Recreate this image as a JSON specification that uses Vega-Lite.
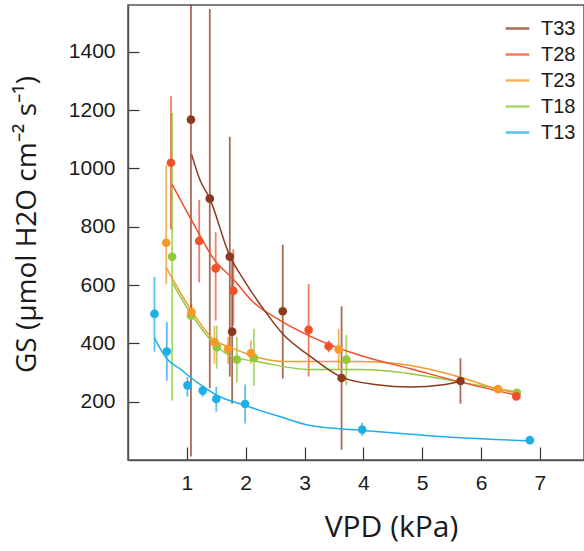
{
  "$schema": "https://vega.github.io/schema/vega-lite/v6.json",
  "autosize": {"type": "none"},
  "padding": {"left": 128, "top": 5, "right": 0, "bottom": 91},
  "width": 456,
  "height": 455,
  "background": "white",
  "config": {
    "view": {"stroke": "#555555", "strokeWidth": 1.5},
    "axis": {
      "grid": false,
      "domainColor": "#555555",
      "domainWidth": 1.5,
      "tickColor": "#333333",
      "tickWidth": 1.2,
      "labelFont": "Liberation Sans",
      "labelFontSize": 20,
      "labelColor": "#1a1a1a",
      "titleFont": "Open Sans",
      "titleFontWeight": "normal",
      "titleColor": "#1a1a1a"
    },
    "legend": {
      "orient": "none",
      "legendX": 376,
      "legendY": 10,
      "padding": 0,
      "symbolType": "stroke",
      "symbolStrokeWidth": 2.5,
      "symbolSize": 560,
      "labelFont": "Liberation Sans",
      "labelFontSize": 20,
      "labelOffset": 10,
      "labelColor": "#1a1a1a",
      "rowPadding": 2,
      "title": null
    }
  },
  "datasets": {
    "pts": [
      {"series": "T13", "vpd": 0.45, "gs": 501, "lo": 371, "hi": 628},
      {"series": "T13", "vpd": 0.66, "gs": 372, "lo": 272, "hi": 473},
      {"series": "T13", "vpd": 1.01, "gs": 256, "lo": 217, "hi": 285},
      {"series": "T13", "vpd": 1.27, "gs": 238, "lo": 217, "hi": 256},
      {"series": "T13", "vpd": 1.50, "gs": 209, "lo": 166, "hi": 251},
      {"series": "T13", "vpd": 1.99, "gs": 192, "lo": 125, "hi": 259},
      {"series": "T13", "vpd": 3.98, "gs": 104, "lo": 83, "hi": 128},
      {"series": "T13", "vpd": 6.83, "gs": 68, "lo": 62, "hi": 74},
      {"series": "T18", "vpd": 0.75, "gs": 697, "lo": 204, "hi": 1190},
      {"series": "T18", "vpd": 1.07, "gs": 495, "lo": 480, "hi": 510},
      {"series": "T18", "vpd": 1.51, "gs": 387, "lo": 313, "hi": 461},
      {"series": "T18", "vpd": 1.85, "gs": 344, "lo": 265, "hi": 422},
      {"series": "T18", "vpd": 2.14, "gs": 350, "lo": 255, "hi": 450},
      {"series": "T18", "vpd": 3.71, "gs": 344, "lo": 256, "hi": 429},
      {"series": "T18", "vpd": 6.61, "gs": 230, "lo": 222, "hi": 238},
      {"series": "T23", "vpd": 0.65, "gs": 745, "lo": 603, "hi": 1011},
      {"series": "T23", "vpd": 1.08, "gs": 507, "lo": 480, "hi": 535},
      {"series": "T23", "vpd": 1.47, "gs": 404, "lo": 330, "hi": 461},
      {"series": "T23", "vpd": 1.70, "gs": 381, "lo": 330, "hi": 422},
      {"series": "T23", "vpd": 2.09, "gs": 366, "lo": 330, "hi": 410},
      {"series": "T23", "vpd": 3.58, "gs": 379, "lo": 307, "hi": 450},
      {"series": "T23", "vpd": 6.29, "gs": 243, "lo": 236, "hi": 250},
      {"series": "T28", "vpd": 0.73, "gs": 1019, "lo": 791, "hi": 1247},
      {"series": "T28", "vpd": 1.21, "gs": 751, "lo": 609, "hi": 892},
      {"series": "T28", "vpd": 1.49, "gs": 657, "lo": 478, "hi": 781},
      {"series": "T28", "vpd": 1.79, "gs": 580, "lo": 461, "hi": 723},
      {"series": "T28", "vpd": 3.07, "gs": 446, "lo": 286, "hi": 603},
      {"series": "T28", "vpd": 3.41, "gs": 390, "lo": 370, "hi": 410},
      {"series": "T28", "vpd": 6.60, "gs": 218, "lo": 210, "hi": 226},
      {"series": "T33", "vpd": 1.07, "gs": 1167, "lo": 12, "hi": 2320},
      {"series": "T33", "vpd": 1.39, "gs": 896, "lo": 246, "hi": 1546},
      {"series": "T33", "vpd": 1.73, "gs": 697, "lo": 286, "hi": 1108},
      {"series": "T33", "vpd": 1.77, "gs": 440, "lo": 193, "hi": 687},
      {"series": "T33", "vpd": 2.63, "gs": 510, "lo": 279, "hi": 738},
      {"series": "T33", "vpd": 3.63, "gs": 281, "lo": 35, "hi": 527},
      {"series": "T33", "vpd": 5.65, "gs": 271, "lo": 193, "hi": 349}
    ],
    "fits": [
      {"series": "T13", "vpd": 0.45, "gs": 418},
      {"series": "T13", "vpd": 0.66, "gs": 347},
      {"series": "T13", "vpd": 0.88, "gs": 313},
      {"series": "T13", "vpd": 1.17, "gs": 267},
      {"series": "T13", "vpd": 1.51, "gs": 222},
      {"series": "T13", "vpd": 1.99, "gs": 187},
      {"series": "T13", "vpd": 2.59, "gs": 148},
      {"series": "T13", "vpd": 3.10, "gs": 118},
      {"series": "T13", "vpd": 3.95, "gs": 102},
      {"series": "T13", "vpd": 4.80, "gs": 88},
      {"series": "T13", "vpd": 5.65, "gs": 76},
      {"series": "T13", "vpd": 6.83, "gs": 66},
      {"series": "T18", "vpd": 0.75, "gs": 609},
      {"series": "T18", "vpd": 1.07, "gs": 501},
      {"series": "T18", "vpd": 1.51, "gs": 390},
      {"series": "T18", "vpd": 1.73, "gs": 358},
      {"series": "T18", "vpd": 2.24, "gs": 336},
      {"series": "T18", "vpd": 3.10, "gs": 310},
      {"series": "T18", "vpd": 3.95, "gs": 310},
      {"series": "T18", "vpd": 4.80, "gs": 296},
      {"series": "T18", "vpd": 5.65, "gs": 267},
      {"series": "T18", "vpd": 6.61, "gs": 233},
      {"series": "T23", "vpd": 0.65, "gs": 660},
      {"series": "T23", "vpd": 1.08, "gs": 512},
      {"series": "T23", "vpd": 1.47, "gs": 410},
      {"series": "T23", "vpd": 1.73, "gs": 387},
      {"series": "T23", "vpd": 2.30, "gs": 347},
      {"series": "T23", "vpd": 2.64, "gs": 338},
      {"series": "T23", "vpd": 3.95, "gs": 338},
      {"series": "T23", "vpd": 4.80, "gs": 324},
      {"series": "T23", "vpd": 5.65, "gs": 284},
      {"series": "T23", "vpd": 6.27, "gs": 244},
      {"series": "T23", "vpd": 6.61, "gs": 230},
      {"series": "T28", "vpd": 0.75, "gs": 945},
      {"series": "T28", "vpd": 1.07, "gs": 826},
      {"series": "T28", "vpd": 1.48, "gs": 683},
      {"series": "T28", "vpd": 1.79, "gs": 620},
      {"series": "T28", "vpd": 2.13, "gs": 541},
      {"series": "T28", "vpd": 2.59, "gs": 478},
      {"series": "T28", "vpd": 3.10, "gs": 424},
      {"series": "T28", "vpd": 3.95, "gs": 358},
      {"series": "T28", "vpd": 4.80, "gs": 313},
      {"series": "T28", "vpd": 5.65, "gs": 267},
      {"series": "T28", "vpd": 6.61, "gs": 222},
      {"series": "T33", "vpd": 1.08, "gs": 1048},
      {"series": "T33", "vpd": 1.22, "gs": 962},
      {"series": "T33", "vpd": 1.39, "gs": 896},
      {"series": "T33", "vpd": 1.73, "gs": 700},
      {"series": "T33", "vpd": 1.96, "gs": 620},
      {"series": "T33", "vpd": 2.30, "gs": 518},
      {"series": "T33", "vpd": 2.64, "gs": 430},
      {"series": "T33", "vpd": 3.10, "gs": 355},
      {"series": "T33", "vpd": 3.63, "gs": 284},
      {"series": "T33", "vpd": 4.23, "gs": 258},
      {"series": "T33", "vpd": 4.80, "gs": 250},
      {"series": "T33", "vpd": 5.36, "gs": 258},
      {"series": "T33", "vpd": 5.65, "gs": 269}
    ]
  },
  "encoding": {
    "x": {
      "field": "vpd", "type": "quantitative",
      "scale": {"domain": [0, 7.75], "nice": false, "zero": false},
      "axis": {"values": [1, 2, 3, 4, 5, 6, 7], "tickSize": -13, "labelPadding": 25, "labelFont": "Liberation Sans", "labelFontSize": 21, "title": "VPD (kPa)", "titleFontSize": 30, "titleX": 263, "titleY": 52}
    },
    "y": {
      "field": "gs", "type": "quantitative",
      "scale": {"domain": [0, 1560], "nice": false},
      "axis": {"values": [200, 400, 600, 800, 1000, 1200, 1400], "format": "d", "tickSize": -11, "labelPadding": 24, "labelFont": "Liberation Sans", "labelFontSize": 21, "title": "GS (µmol H2O cm⁻² s⁻¹)", "titleFontSize": 28, "titleX": -87, "titleY": 219}
    },
    "color": {
      "field": "series", "type": "nominal",
      "scale": {"domain": ["T33", "T28", "T23", "T18", "T13"], "range": ["#8B3A1E", "#F0502A", "#F39A2A", "#92C83E", "#1FAEE8"]}
    }
  },
  "layer": [
    {
      "data": {"name": "pts"},
      "mark": {"type": "rule", "strokeWidth": 1.8, "opacity": 0.75, "clip": true},
      "encoding": {"y": {"field": "lo", "type": "quantitative"}, "y2": {"field": "hi"}}
    },
    {
      "data": {"name": "fits"},
      "mark": {"type": "line", "strokeWidth": 1.5, "clip": true, "interpolate": "monotone"},
      "encoding": {"detail": {"field": "series"}}
    },
    {
      "data": {"name": "pts"},
      "mark": {"type": "point", "filled": true, "opacity": 1, "size": 75, "shape": "circle"},
      "encoding": {}
    }
  ]
}
